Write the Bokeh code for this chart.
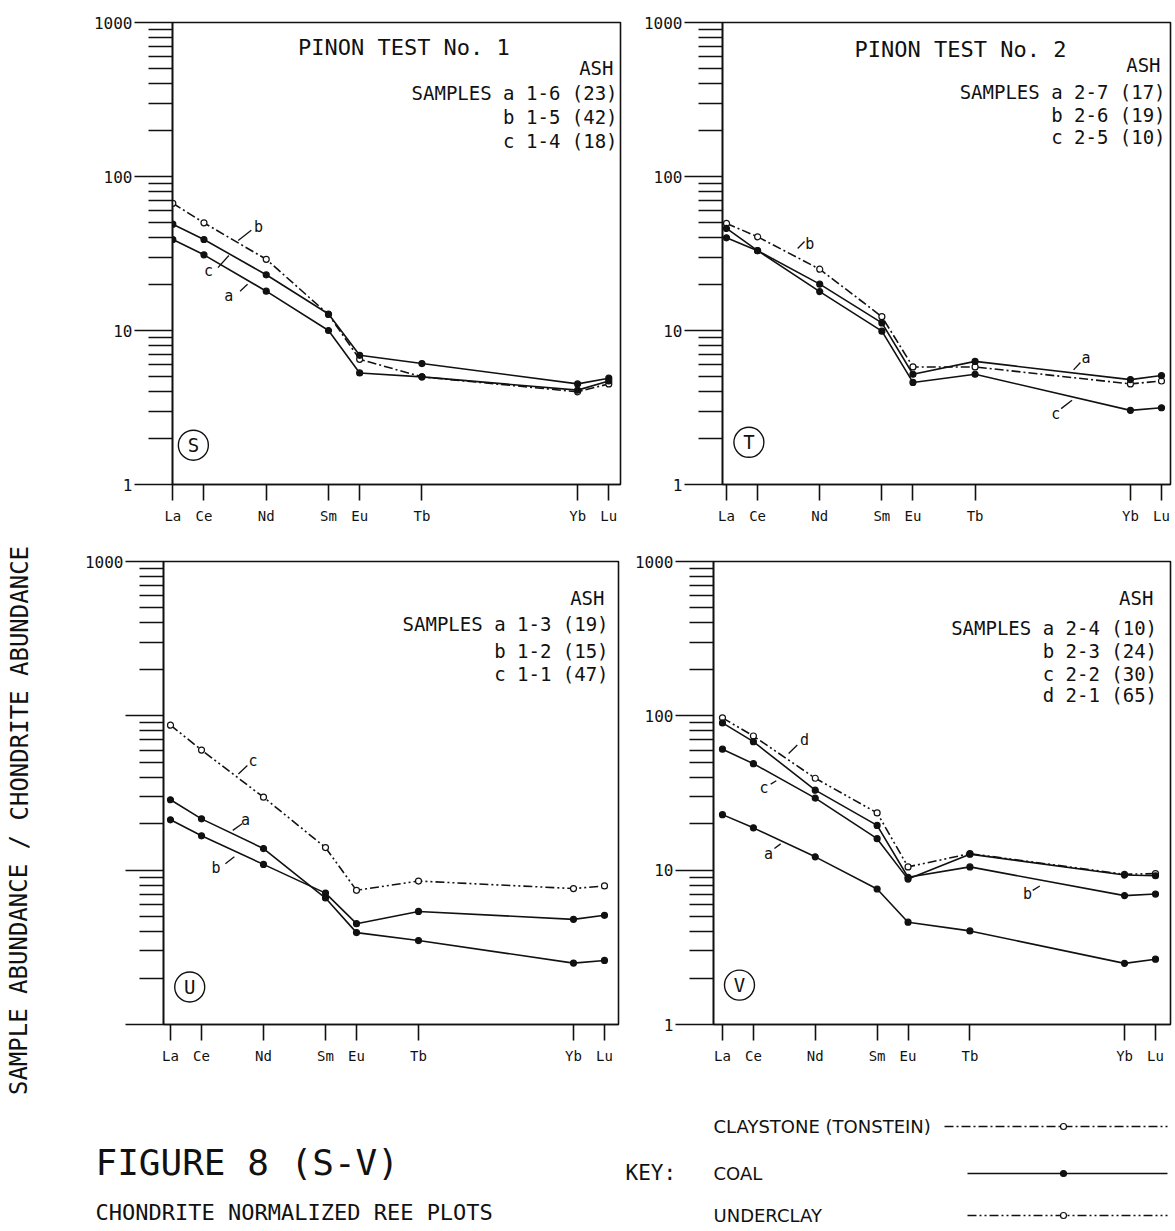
from bokeh.plotting import figure
from bokeh.layouts import row, column
from bokeh.models import Range1d, FixedTicker, PrintfTickFormatter
from bokeh.embed import file_html
from bokeh.resources import INLINE
from bokeh.core.properties import value

# ---------------- data ----------------
elements = ["La", "Ce", "Nd", "Sm", "Eu", "Tb", "Yb", "Lu"]
atomic_number = [57, 58, 60, 62, 63, 65, 70, 71]
y_major_ticks = [1, 10, 100, 1000]

# Panel S - Pinon Test No. 1
s_title = "PINON TEST No. 1"
s_samples = ["SAMPLES a 1-6 (23)", "b 1-5 (42)", "c 1-4 (18)"]
s_a = [39, 31, 18, 10.0, 5.3, 5.0, 4.1, 4.7]
s_b = [67, 50, 29, 12.7, 6.5, 5.0, 4.0, 4.5]
s_c = [49, 39, 23, 12.8, 6.9, 6.1, 4.5, 4.9]

# Panel T - Pinon Test No. 2
t_title = "PINON TEST No. 2"
t_samples = ["SAMPLES a 2-7 (17)", "b 2-6 (19)", "c 2-5 (10)"]
t_a = [46, 33, 20, 11.2, 5.2, 6.3, 4.8, 5.1]
t_b = [49.6, 40.6, 25, 12.3, 5.8, 5.8, 4.5, 4.7]
t_c = [40, 33, 17.9, 9.9, 4.6, 5.2, 3.03, 3.15]

# Panel U
u_samples = ["SAMPLES a 1-3 (19)", "b 1-2 (15)", "c 1-1 (47)"]
u_a = [28.6, 21.5, 13.8, 6.6, 3.94, 3.5, 2.5, 2.6]
u_b = [21.2, 16.7, 10.9, 7.1, 4.5, 5.4, 4.8, 5.1]
u_c = [87, 60, 29.7, 14, 7.4, 8.5, 7.6, 7.9]

# Panel V
v_samples = ["SAMPLES a 2-4 (10)", "b 2-3 (24)", "c 2-2 (30)", "d 2-1 (65)"]
v_a = [22.9, 18.8, 12.2, 7.55, 4.6, 4.04, 2.49, 2.65]
v_b = [90, 68, 33, 19.5, 9.0, 10.5, 6.84, 7.0]
v_c = [60.8, 49, 29.3, 16, 8.75, 12.7, 9.3, 9.2]
v_d = [97, 74, 39.4, 23.5, 10.5, 12.8, 9.4, 9.5]

key_labels = ["CLAYSTONE (TONSTEIN)", "COAL", "UNDERCLAY"]
key_kinds = ["claystone", "coal", "underclay"]

# ---------------- styles ----------------
MONO = "DejaVu Sans Mono"
SANS = "DejaVu Sans"
INK = "#111111"
STYLE = {
    "coal": ("solid", INK),
    "claystone": ("9 3 2 3", "white"),
    "underclay": ("9 3 2 3 2 3", "white"),
}


def make_panel(width, height, left, right, top, bottom, x0, x1, hide_labels=False):
    p = figure(width=width, height=height, x_range=Range1d(x0, x1),
               y_range=Range1d(1, 1000), y_axis_type="log",
               output_backend="svg", toolbar_location=None, title_location=None,
               min_border_left=left, min_border_right=right,
               min_border_top=top, min_border_bottom=bottom)
    p.grid.visible = False
    p.outline_line_color = INK
    p.outline_line_width = 1.6
    p.background_fill_color = "white"
    p.border_fill_color = "white"

    xa = p.xaxis[0]
    xa.ticker = FixedTicker(ticks=atomic_number)
    xa.major_label_overrides = dict(zip(atomic_number, elements))
    xa.major_tick_in = 0
    xa.major_tick_out = 16
    xa.minor_tick_line_color = None
    xa.major_tick_line_width = 1.6
    xa.axis_line_width = 1.6
    xa.axis_line_color = INK
    xa.major_tick_line_color = INK
    xa.major_label_standoff = 7
    xa.major_label_text_font = MONO
    xa.major_label_text_font_size = "14px"
    xa.major_label_text_color = INK

    ya = p.yaxis[0]
    ya.ticker = FixedTicker(ticks=y_major_ticks,
                            minor_ticks=[m * 10 ** k for k in range(3) for m in range(2, 10)])
    ya.formatter = PrintfTickFormatter(format="%d")
    ya.major_tick_in = 0
    ya.major_tick_out = 38
    ya.minor_tick_in = 0
    ya.minor_tick_out = 24
    ya.major_tick_line_width = 1.6
    ya.minor_tick_line_width = 1.6
    ya.major_tick_line_color = INK
    ya.minor_tick_line_color = INK
    ya.axis_line_width = 1.6
    ya.axis_line_color = INK
    ya.major_label_standoff = 2
    ya.major_label_text_font = MONO
    ya.major_label_text_font_size = "16px"
    ya.major_label_text_color = INK
    if hide_labels:
        ya.major_label_overrides = {1: "", 10: "", 100: ""}
    return p


def draw_series(p, series):
    for vals, kind in series:
        dash, fill = STYLE[kind]
        p.line(atomic_number, vals, line_color=INK, line_width=1.6, line_dash=dash)
        p.scatter(atomic_number, vals, size=6, marker="circle", line_color=INK,
                  fill_color=fill, line_width=1.2)


def annotate(p, title, title_xy, samples, ash_xy, sample_x, sample_ys, letter, letter_xy, notes):
    if title:
        p.text(x=[title_xy[0]], y=[title_xy[1]], text=[title], text_font=value(MONO),
               text_font_size="22px", text_align="center", text_baseline="middle",
               text_color=INK)
    p.text(x=[ash_xy[0]], y=[ash_xy[1]], text=["ASH"], text_font=value(MONO),
           text_font_size="19px", text_align="right", text_baseline="middle", text_color=INK)
    p.text(x=[sample_x] * len(samples), y=sample_ys, text=samples, text_font=value(MONO),
           text_font_size="19px", text_align="right", text_baseline="middle", text_color=INK)
    p.scatter([letter_xy[0]], [letter_xy[1]], size=30, marker="circle", fill_color=None,
              line_color=INK, line_width=1.4)
    p.text(x=[letter_xy[0]], y=[letter_xy[1]], text=[letter], text_font=value(MONO),
           text_font_size="19px", text_align="center", text_baseline="middle", text_color=INK)
    p.text(x=[n[1] for n in notes], y=[n[2] for n in notes], text=[n[0] for n in notes],
           text_font=value(MONO), text_font_size="15px", text_align="center",
           text_baseline="middle", text_color=INK)
    p.segment(x0=[n[3] for n in notes], y0=[n[4] for n in notes],
              x1=[n[5] for n in notes], y1=[n[6] for n in notes],
              line_color=INK, line_width=1.3)


# ---------------- panels ----------------
pS = make_panel(575, 540, 124, 3, 22, 56, 56.99, 71.376)
draw_series(pS, [(s_b, "claystone"), (s_c, "coal"), (s_a, "coal")])
annotate(pS, s_title, (64.42, 688), s_samples, (71.15, 503), 71.28, [346, 243, 171],
         "S", (57.66, 1.8),
         [("b", 59.75, 47.3, 59.10, 38.4, 59.52, 44.8),
          ("c", 58.15, 24.5, 58.45, 25.6, 58.80, 30.7),
          ("a", 58.80, 16.7, 59.16, 18.0, 59.40, 19.95)])

pT = make_panel(550, 540, 99, 3, 22, 56, 56.87, 71.29)
draw_series(pT, [(t_b, "claystone"), (t_a, "coal"), (t_c, "coal")])
annotate(pT, t_title, (64.53, 667), t_samples, (70.97, 531), 71.13, [355, 250, 180],
         "T", (57.72, 1.88),
         [("b", 59.68, 36.7, 59.29, 34.1, 59.51, 37.8),
          ("a", 68.57, 6.6, 68.17, 5.55, 68.39, 6.2),
          ("c", 67.60, 2.88, 67.77, 3.11, 68.12, 3.53)])

pU = make_panel(575, 530, 115, 5, 21, 46, 56.774, 71.452, hide_labels=True)
draw_series(pU, [(u_c, "underclay"), (u_a, "coal"), (u_b, "coal")])
annotate(pU, None, None, u_samples, (71.0, 582), 71.13, [391, 265, 186],
         "U", (57.62, 1.75),
         [("c", 59.66, 51.3, 59.19, 42.0, 59.48, 47.6),
          ("a", 59.42, 21.0, 59.01, 18.1, 59.31, 20.0),
          ("b", 58.47, 10.3, 58.77, 11.0, 59.06, 12.2)])

pV = make_panel(550, 530, 90, 3, 21, 46, 56.71, 71.485)
draw_series(pV, [(v_d, "underclay"), (v_b, "coal"), (v_c, "coal"), (v_a, "coal")])
annotate(pV, None, None, v_samples, (70.93, 581), 71.05, [372, 264, 187, 135.5],
         "V", (57.55, 1.8),
         [("d", 59.65, 69.7, 59.14, 57.0, 59.42, 64.7),
          ("c", 58.34, 34.1, 58.56, 36.1, 58.74, 38.0),
          ("a", 58.49, 12.8, 58.68, 13.8, 58.88, 14.8),
          ("b", 66.86, 7.0, 67.03, 7.4, 67.26, 7.9)])

# ---------------- left strip with the shared y label ----------------
pL = figure(width=48, height=1229, x_range=Range1d(0, 48), y_range=Range1d(1229, 0),
            x_axis_type=None, y_axis_type=None, output_backend="svg",
            toolbar_location=None, title_location=None,
            min_border_left=0, min_border_right=0, min_border_top=0, min_border_bottom=0)
pL.outline_line_color = None
pL.grid.visible = False
pL.text(x=[19], y=[820], text=["SAMPLE ABUNDANCE / CHONDRITE ABUNDANCE"],
        angle=1.5707963, text_font=value(MONO), text_font_size="24px",
        text_align="center", text_baseline="middle", text_color=INK)

# ---------------- bottom strip: figure title and key ----------------
pB = figure(width=1125, height=159, x_range=Range1d(48, 1173), y_range=Range1d(1229, 1070),
            x_axis_type=None, y_axis_type=None, output_backend="svg",
            toolbar_location=None, title_location=None,
            min_border_left=0, min_border_right=0, min_border_top=0, min_border_bottom=0)
pB.outline_line_color = None
pB.grid.visible = False
pB.text(x=[95], y=[1162], text=["FIGURE 8 (S-V)"], text_font=value(MONO),
        text_font_size="36px", text_align="left", text_baseline="middle", text_color=INK)
pB.text(x=[95], y=[1212], text=["CHONDRITE NORMALIZED REE PLOTS"], text_font=value(MONO),
        text_font_size="22px", text_align="left", text_baseline="middle", text_color=INK)
pB.text(x=[625], y=[1172], text=["KEY:"], text_font=value(MONO),
        text_font_size="21px", text_align="left", text_baseline="middle", text_color=INK)
key_y = [1126, 1173, 1215]
key_x0 = [944, 967, 967]
pB.text(x=[713] * 3, y=key_y, text=key_labels, text_font=value(SANS),
        text_font_size="18px", text_align="left", text_baseline="middle", text_color=INK)
for ky, kx0, kind in zip(key_y, key_x0, key_kinds):
    dash, fill = STYLE[kind]
    pB.line([kx0, 1167], [ky, ky], line_color=INK, line_width=1.5, line_dash=dash)
    pB.scatter([1063], [ky], size=6, marker="circle", line_color=INK, fill_color=fill,
               line_width=1.2)

layout = row(pL, column(row(pS, pT), row(pU, pV), pB))

open("out.html", "w").write(file_html(layout, INLINE))
